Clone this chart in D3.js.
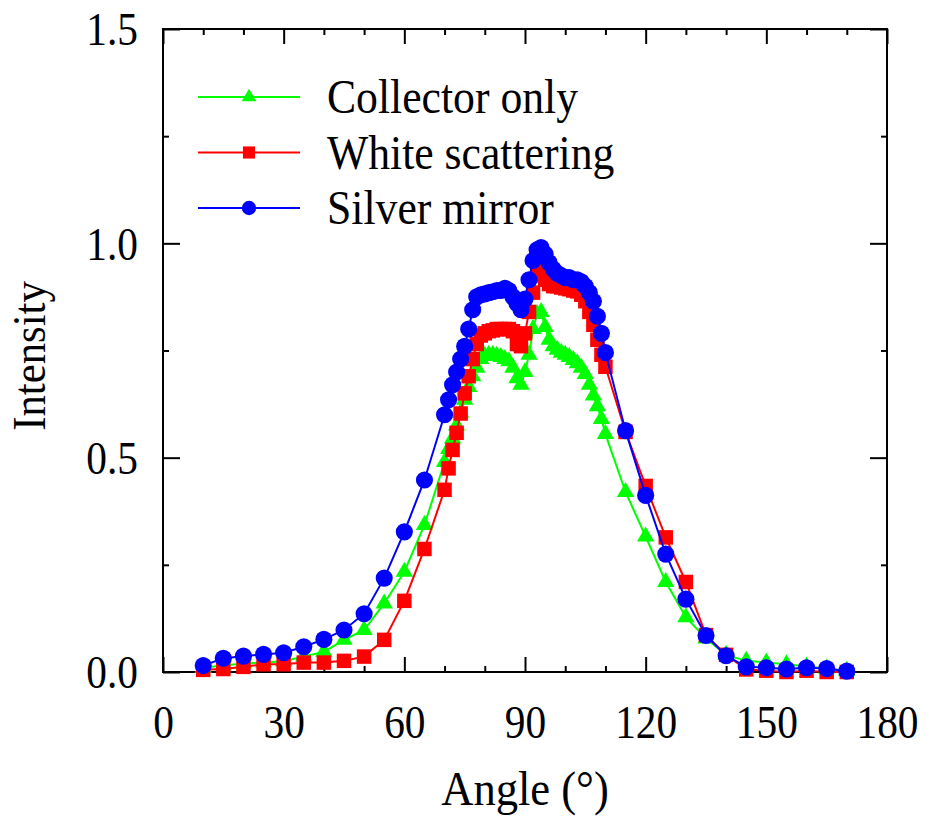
<!DOCTYPE html>
<html lang="en">
<head>
    <meta charset="UTF-8">
    <title>Intensity vs Angle</title>
    <script src="https://d3js.org/d3.v7.min.js"></script>
    <style>
        body {
            margin: 0;
            background: #fff;
        }
        text {
            font-family: "Liberation Serif", "Times New Roman", serif;
            fill: #000;
        }
    </style>
</head>
<body>
    <div id="chart"></div>

    <script>
        // angles: 5 deg steps on the tails, 1 deg steps across the peak
        const angles = [10, 15, 20, 25, 30, 35, 40, 45, 50, 55, 60, 65,
            70, 71, 72, 73, 74, 75, 76, 77, 78, 79, 80, 81, 82, 83, 84, 85, 86, 87, 88, 89,
            90, 91, 92, 93, 94, 95, 96, 97, 98, 99, 100, 101, 102, 103, 104, 105, 106, 107, 108, 109, 110,
            115, 120, 125, 130, 135, 140, 145, 150, 155, 160, 165, 170];

        const collectorOnly = [0.010, 0.015, 0.020, 0.022, 0.025, 0.036, 0.047, 0.075, 0.098, 0.160, 0.234, 0.343,
            0.490, 0.520, 0.545, 0.575, 0.605, 0.635, 0.665, 0.690, 0.710, 0.730, 0.738, 0.740, 0.740, 0.738, 0.735, 0.730, 0.725, 0.710, 0.685, 0.670,
            0.700, 0.740, 0.800, 0.835, 0.840, 0.805, 0.775, 0.760, 0.752, 0.745, 0.740, 0.735, 0.728, 0.720, 0.710, 0.695, 0.670, 0.645, 0.620, 0.590, 0.555,
            0.420, 0.316, 0.210, 0.128, 0.078, 0.040, 0.026, 0.022, 0.018, 0.013, 0.008, 0.003];

        const whiteScattering = [0.005, 0.007, 0.012, 0.018, 0.018, 0.022, 0.022, 0.026, 0.036, 0.075, 0.166, 0.287,
            0.425, 0.475, 0.518, 0.558, 0.603, 0.650, 0.690, 0.730, 0.765, 0.785, 0.790, 0.795, 0.797, 0.800, 0.800, 0.800, 0.800, 0.795, 0.765, 0.760,
            0.790, 0.840, 0.885, 0.925, 0.935, 0.915, 0.905, 0.900, 0.900, 0.897, 0.895, 0.893, 0.890, 0.888, 0.880, 0.865, 0.840, 0.810, 0.775, 0.740, 0.712,
            0.560, 0.434, 0.314, 0.210, 0.086, 0.040, 0.006, 0.003, 0.000, 0.003, 0.000, 0.000];

        const silverMirror = [0.015, 0.032, 0.037, 0.041, 0.045, 0.059, 0.076, 0.098, 0.136, 0.219, 0.327, 0.448,
            0.600, 0.635, 0.670, 0.700, 0.730, 0.760, 0.800, 0.845, 0.875, 0.880, 0.882, 0.885, 0.887, 0.890, 0.890, 0.895, 0.890, 0.875, 0.860, 0.845,
            0.870, 0.915, 0.960, 0.985, 0.990, 0.975, 0.955, 0.940, 0.930, 0.925, 0.920, 0.920, 0.915, 0.915, 0.910, 0.900, 0.885, 0.865, 0.830, 0.790, 0.745,
            0.563, 0.412, 0.275, 0.170, 0.085, 0.038, 0.012, 0.010, 0.007, 0.010, 0.008, 0.002];

        const seriesNames = ["Collector only", "White scattering", "Silver mirror"];
        const xTicks = [0, 30, 60, 90, 120, 150, 180];
        const yTicks = [0, 0.5, 1.0, 1.5];

        const width = 927, height = 828;
        const margin = { top: 29, right: 40, bottom: 156, left: 163 };
        const plotW = width - margin.left - margin.right;
        const plotH = height - margin.top - margin.bottom;

        // the original text is a bit narrow and tall
        const squeeze = 0.88;

        const svg = d3.select("#chart")
            .append("svg")
            .attr("width", width)
            .attr("height", height);

        const g = svg.append("g")
            .attr("transform", `translate(${margin.left},${margin.top})`);

        const x = d3.scaleLinear().domain([0, 180]).range([0, plotW]);
        const y = d3.scaleLinear().domain([0, 1.5]).range([plotH, 0]);

        const series = [
            { name: seriesNames[0], values: collectorOnly, color: "#00ff00", symbol: d3.symbolTriangle, size: 130 },
            { name: seriesNames[1], values: whiteScattering, color: "#ff0000", symbol: d3.symbolSquare, size: 210 },
            { name: seriesNames[2], values: silverMirror, color: "#0000ff", symbol: d3.symbolCircle, size: 230 }
        ];

        // ticks, all pointing inward
        const minorX = d3.range(0, 181, 10).filter(v => v % 30 !== 0);
        const minorY = d3.range(0.25, 1.5, 0.5);

        function styleAxis(sel) {
            sel.select(".domain").remove();
            sel.selectAll(".tick line").attr("stroke", "#000").attr("stroke-width", 2);
        }

        g.append("g").attr("transform", `translate(0,${plotH})`)
            .call(d3.axisBottom(x).tickValues(xTicks).tickSize(-15).tickPadding(33).tickFormat(d3.format("d")))
            .call(styleAxis)
            .selectAll("text")
            .attr("font-size", 47)
            .attr("fill", "#000")
            .attr("transform", `scale(${squeeze},1)`);
        g.append("g").attr("transform", `translate(0,${plotH})`)
            .call(d3.axisBottom(x).tickValues(minorX).tickSize(-6).tickFormat(""))
            .call(styleAxis);
        g.append("g")
            .call(d3.axisTop(x).tickValues(xTicks).tickSize(-15).tickFormat(""))
            .call(styleAxis);
        g.append("g")
            .call(d3.axisTop(x).tickValues(minorX).tickSize(-6).tickFormat(""))
            .call(styleAxis);

        g.append("g")
            .call(d3.axisLeft(y).tickValues(yTicks).tickSize(-17).tickPadding(28.5).tickFormat(d3.format(".1f")))
            .call(styleAxis)
            .selectAll("text")
            .attr("font-size", 47)
            .attr("fill", "#000")
            .attr("dy", "0.34em")
            .attr("transform", `scale(${squeeze},1)`);
        g.append("g")
            .call(d3.axisLeft(y).tickValues(minorY).tickSize(-6).tickFormat(""))
            .call(styleAxis);
        g.append("g").attr("transform", `translate(${plotW},0)`)
            .call(d3.axisRight(y).tickValues(yTicks).tickSize(-17).tickFormat(""))
            .call(styleAxis);
        g.append("g").attr("transform", `translate(${plotW},0)`)
            .call(d3.axisRight(y).tickValues(minorY).tickSize(-6).tickFormat(""))
            .call(styleAxis);

        // frame
        g.append("rect")
            .attr("width", plotW)
            .attr("height", plotH)
            .attr("fill", "none")
            .attr("stroke", "#000")
            .attr("stroke-width", 2);

        // series
        const line = d3.line()
            .x((d, i) => x(angles[i]))
            .y(d => y(d));

        series.forEach(s => {
            g.append("path")
                .datum(s.values)
                .attr("fill", "none")
                .attr("stroke", s.color)
                .attr("stroke-width", 2)
                .attr("d", line);

            g.append("g")
                .selectAll("path")
                .data(s.values)
                .enter()
                .append("path")
                .attr("transform", (d, i) => `translate(${x(angles[i])},${y(d)})`)
                .attr("d", d3.symbol().type(s.symbol).size(s.size))
                .attr("fill", s.color);
        });

        // legend
        const legend = svg.append("g");
        series.forEach((s, i) => {
            const ly = 97 + i * 55.5;
            legend.append("line")
                .attr("x1", 198).attr("x2", 300)
                .attr("y1", ly).attr("y2", ly)
                .attr("stroke", s.color)
                .attr("stroke-width", 2);
            legend.append("path")
                .attr("transform", `translate(249,${ly})`)
                .attr("d", d3.symbol().type(s.symbol).size(s.size * 0.7))
                .attr("fill", s.color);
            legend.append("text")
                .attr("transform", `translate(327,${ly + 16}) scale(${squeeze + 0.03},1)`)
                .attr("font-size", 48)
                .text(s.name);
        });

        // axis titles
        svg.append("text")
            .attr("transform", `translate(${margin.left + plotW / 2},805) scale(${squeeze + 0.03},1)`)
            .attr("text-anchor", "middle")
            .attr("font-size", 49)
            .text("Angle (°)");

        svg.append("text")
            .attr("transform", `translate(45,356) rotate(-90) scale(${squeeze + 0.03},1)`)
            .attr("text-anchor", "middle")
            .attr("font-size", 47)
            .text("Intensity");
    </script>
</body>
</html>
